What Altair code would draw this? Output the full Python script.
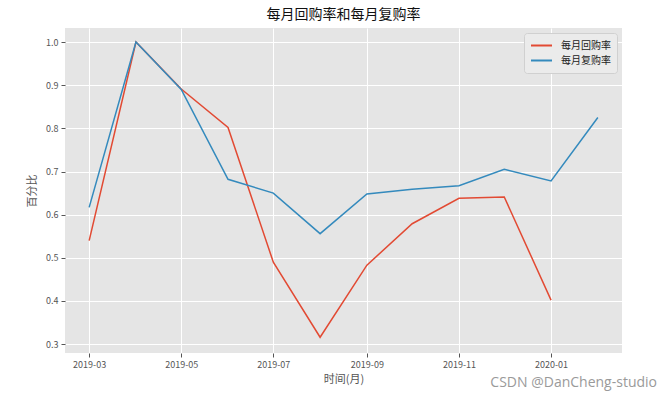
import altair as alt
import pandas as pd

months = ["2019-03-01", "2019-04-01", "2019-05-01", "2019-06-01", "2019-07-01", "2019-08-01",
          "2019-09-01", "2019-10-01", "2019-11-01", "2019-12-01", "2020-01-01", "2020-02-01"]
huigou = [0.540, 1.0, 0.891, 0.802, 0.490, 0.316, 0.483, 0.579, 0.638, 0.641, 0.402, None]
fugou = [0.617, 1.0, 0.890, 0.682, 0.650, 0.556, 0.648, 0.659, 0.667, 0.705, 0.678, 0.825]
series_names = ["每月回购率", "每月复购率"]
colors = ["#E24A33", "#348ABD"]

rows = []
for m, a, b in zip(months, huigou, fugou):
    if a is not None:
        rows.append({"date": m, "value": a, "series": series_names[0]})
    if b is not None:
        rows.append({"date": m, "value": b, "series": series_names[1]})
df = pd.DataFrame(rows)

FONT = "Noto Sans CJK SC"

tick_dates = [alt.DateTime(year=2019, month=3, date=1, utc=True),
              alt.DateTime(year=2019, month=5, date=1, utc=True),
              alt.DateTime(year=2019, month=7, date=1, utc=True),
              alt.DateTime(year=2019, month=9, date=1, utc=True),
              alt.DateTime(year=2019, month=11, date=1, utc=True),
              alt.DateTime(year=2020, month=1, date=1, utc=True)]

lines = alt.Chart(df).mark_line(strokeWidth=1.5, clip=True).encode(
    x=alt.X("date:T",
            scale=alt.Scale(type="utc",
                            domain=[alt.DateTime(year=2019, month=2, date=13, utc=True),
                                    alt.DateTime(year=2020, month=2, date=17, utc=True)]),
            axis=alt.Axis(title="时间(月)", values=tick_dates, format="%Y-%m",
                          labelFont=FONT, labelFontSize=9, labelColor="#555555",
                          titleFont=FONT, titleFontSize=11, titleColor="#555555", titleFontWeight="normal",
                          titlePadding=4, tickColor="#555555", tickSize=4, domain=False,
                          grid=True, gridColor="white", gridWidth=1, labelPadding=3)),
    y=alt.Y("value:Q",
            scale=alt.Scale(domain=[0.2795, 1.0325], nice=False, zero=False),
            axis=alt.Axis(title="百分比", values=[0.3, 0.4, 0.5, 0.6, 0.7, 0.8, 0.9, 1.0], format=".1f",
                          labelFont=FONT, labelFontSize=9, labelColor="#555555",
                          titleFont=FONT, titleFontSize=11, titleColor="#555555", titleFontWeight="normal",
                          titlePadding=8, tickColor="#555555", tickSize=4, domain=False,
                          grid=True, gridColor="white", gridWidth=1, labelPadding=3)),
    color=alt.Color("series:N",
                    scale=alt.Scale(domain=series_names, range=colors),
                    legend=alt.Legend(title=None, orient="top-right", offset=5,
                                      symbolType="M-1,0L1,0", symbolSize=441, symbolStrokeWidth=2,
                                      labelFont=FONT, labelFontSize=10, labelColor="#222222",
                                      labelOffset=8, clipHeight=13,
                                      fillColor="#EBEBEB", strokeColor="#D0D0D0", cornerRadius=3,
                                      padding=6, rowPadding=2)),
)

wm = alt.Chart(pd.DataFrame({"t": ["CSDN @DanCheng-studio"]})).mark_text(
    align="right", baseline="middle", font="Open Sans", fontSize=14, color="#9a9a9a", clip=False
).encode(x=alt.value(592), y=alt.value(355), text="t:N")

chart = alt.layer(lines, wm).properties(
    width=557, height=325,
    title=alt.TitleParams("每月回购率和每月复购率", font=FONT, fontSize=14, fontWeight="normal",
                          color="#111111", anchor="middle", offset=6),
    autosize=alt.AutoSizeParams(type="none"),
    padding={"left": 65, "top": 28, "right": 50, "bottom": 47},
    background="white",
).configure_view(fill="#E5E5E5", stroke=None)

chart.save("out.html", embed_options={"renderer": "svg", "actions": False})
